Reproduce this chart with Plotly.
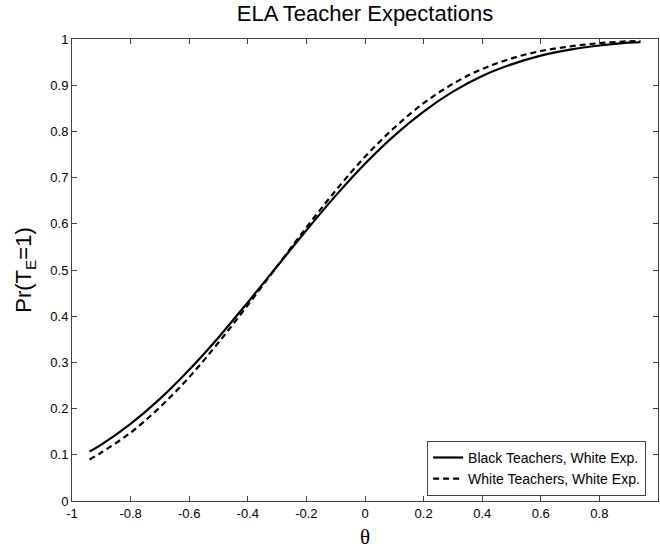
import plotly.graph_objects as go

theta = [-0.94, -0.9, -0.8, -0.7, -0.6, -0.5, -0.4, -0.3, -0.2, -0.1, 0.0,
         0.1, 0.2, 0.3, 0.4, 0.5, 0.6, 0.7, 0.8, 0.9, 0.94]
black_teachers = [0.107, 0.122, 0.167, 0.221, 0.284, 0.354, 0.430, 0.508, 0.586, 0.661, 0.730,
                  0.791, 0.843, 0.886, 0.920, 0.945, 0.964, 0.977, 0.986, 0.992, 0.993]
white_teachers = [0.090, 0.105, 0.148, 0.203, 0.268, 0.343, 0.424, 0.508, 0.592, 0.672, 0.745,
                  0.808, 0.861, 0.903, 0.935, 0.958, 0.974, 0.984, 0.991, 0.995, 0.996]

x_ticks = [-1, -0.8, -0.6, -0.4, -0.2, 0, 0.2, 0.4, 0.6, 0.8, 1]
x_tick_labels = ["-1", "-0.8", "-0.6", "-0.4", "-0.2", "0", "0.2", "0.4", "0.6", "0.8", "1"]
y_ticks = [0, 0.1, 0.2, 0.3, 0.4, 0.5, 0.6, 0.7, 0.8, 0.9, 1]
y_tick_labels = ["0", "0.1", "0.2", "0.3", "0.4", "0.5", "0.6", "0.7", "0.8", "0.9", "1"]

fig = go.Figure()
fig.add_trace(go.Scatter(x=theta, y=black_teachers, mode="lines", line_shape="spline",
                         name="Black Teachers, White Exp.",
                         line=dict(color="black", width=2.2, dash="solid")))
fig.add_trace(go.Scatter(x=theta, y=white_teachers, mode="lines", line_shape="spline",
                         name="White Teachers, White Exp.",
                         line=dict(color="black", width=2.2, dash="6px,4px")))

axis_common = dict(showgrid=False, zeroline=False, showline=True, linecolor="#404040",
                   linewidth=1, mirror="ticks", ticks="inside", ticklen=5, tickcolor="#404040",
                   tickfont=dict(family="Liberation Sans, Arial", size=13, color="black"))

fig.update_xaxes(range=[-1, 1], tickvals=x_ticks, ticktext=x_tick_labels, **axis_common)
fig.update_yaxes(range=[0, 1], tickvals=y_ticks, ticktext=y_tick_labels,
                 title=dict(text="Pr(T<sub>E</sub>=1)", font=dict(family="Liberation Sans, Arial", size=22, color="black"),
                            standoff=12),
                 **axis_common)

fig.add_annotation(text="θ", xref="paper", yref="paper", x=0.5, y=-0.048, xanchor="center", yanchor="top",
                   showarrow=False, font=dict(family="Liberation Serif, Times New Roman", size=21, color="black"))

fig.update_layout(
    width=660, height=548,
    margin=dict(l=72, r=2, t=39, b=47, autoexpand=False),
    paper_bgcolor="white", plot_bgcolor="white",
    title=dict(text="ELA Teacher Expectations", x=0.553, xanchor="center", y=0.99, yanchor="top",
               font=dict(family="Liberation Sans, Arial", size=22, color="black")),
    legend=dict(x=0.606, xanchor="left", y=0.011, yanchor="bottom", bgcolor="white",
                bordercolor="#404040", borderwidth=1,
                font=dict(family="Liberation Sans, Arial", size=14, color="black"),
                tracegroupgap=0),
    showlegend=True,
)

fig.write_html("out.html", config={"displayModeBar": False},
               post_script="document.body.style.margin='0';document.body.style.padding='0';")
